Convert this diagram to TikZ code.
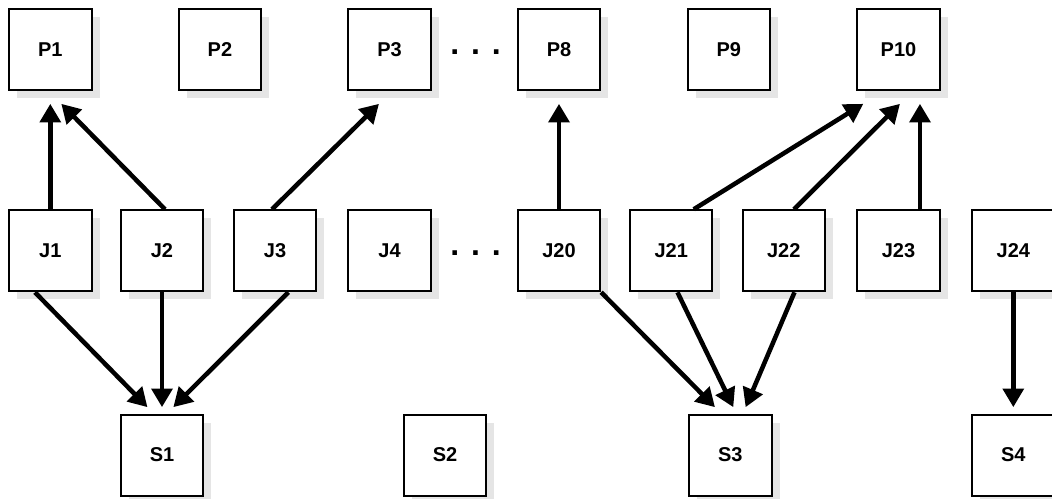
\documentclass[tikz,border=0pt]{standalone}
\usepackage{fontspec}
\setmainfont{Liberation Sans}
\usetikzlibrary{arrows.meta,shadows}

\tikzset{
  box/.style={draw, line width=1.5pt, fill=white, minimum width=61.9pt, minimum height=60.75pt, inner sep=0pt,
    font=\fontsize{15pt}{18pt}\selectfont\bfseries,
    drop shadow={shadow xshift=6pt, shadow yshift=-6pt, fill=gray!20, opacity=1}},
  pnode/.style={box, outer ysep=10pt},
  jnode/.style={box},
  snode/.style={box, outer ysep=5.5pt},
  link/.style={-{Triangle[length=14pt,width=15.5pt]}, line width=3.4pt},
  gap/.style={font=\fontsize{24pt}{28pt}\selectfont\bfseries, anchor=base}
}

\begin{document}
\begin{tikzpicture}[x=0.75pt,y=-0.75pt]

\useasboundingbox (0,0) rectangle (1052,499);

\foreach \n/\x in {P1/50.3, P2/219.9, P3/389.5, P8/559, P9/728.8, P10/898.5}
{\node[pnode] (\n) at (\x,50) {\n};}

\foreach \n/\x in {J1/50.3, J2/162, J3/275, J4/389.5, J20/559, J21/671.2, J22/783.8, J23/898.5, J24/1013.3}
{\node[jnode] (\n) at (\x,250.8) {\n};}

\foreach \n/\x in {S1/162, S2/445, S3/730.3, S4/1013.3}
{\node[snode] (\n) at (\x,455) {\n};}

\node[gap] (dotsP) at (475.5,55) {. . .};
\node[gap] (dotsJ) at (475.5,255.5) {. . .};

\draw[link] (J1.north) -- (P1.south);
\draw[link] ([xshift=2.25pt]J2.north) -- ([xshift=8.25pt]P1.south);
\draw[link] ([xshift=-2.25pt]J3.north) -- ([xshift=-7.9pt]P3.south);
\draw[link] (J20.north) -- (P8.south);
\draw[link] ([xshift=16.9pt]J21.north) -- ([xshift=-26.4pt]P10.south);
\draw[link] ([xshift=7.65pt]J22.north) -- ([xshift=1.1pt]P10.south);
\draw[link] ([xshift=16.1pt]J23.north) -- ([xshift=16.1pt]P10.south);

\draw[link] ([xshift=-11.5pt]J1.south) -- ([xshift=-10.9pt]S1.north);
\draw[link] (J2.south) -- (S1.north);
\draw[link] ([xshift=10pt]J3.south) -- ([xshift=8.5pt]S1.north);
\draw[link] ([xshift=31.6pt]J20.south) -- ([xshift=-11.5pt]S3.north);
\draw[link] ([xshift=4.7pt]J21.south) -- ([xshift=2.25pt]S3.north);
\draw[link] ([xshift=8pt]J22.south) -- ([xshift=11.5pt]S3.north);
\draw[link] (J24.south) -- (S4.north);

\end{tikzpicture}
\end{document}
